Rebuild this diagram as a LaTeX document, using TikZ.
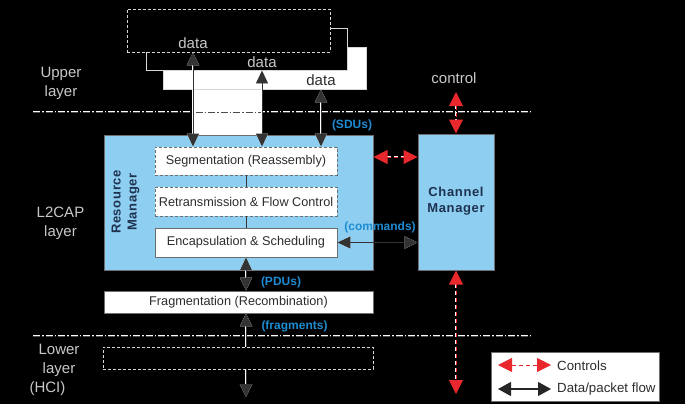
\documentclass[tikz,border=0pt]{standalone}
\usepackage{fontspec}
\setmainfont{Liberation Sans}
\usetikzlibrary{arrows.meta}
\definecolor{rmblue}{RGB}{142,206,240}
\definecolor{lblue}{RGB}{30,140,210}
\definecolor{navy}{RGB}{30,50,80}
\definecolor{ared}{RGB}{232,40,45}
\definecolor{txtdark}{RGB}{45,45,45}
\definecolor{onblack}{RGB}{200,200,200}
\definecolor{boxline}{RGB}{110,110,110}
\definecolor{lightline}{RGB}{215,215,215}
\tikzset{
  dtip/.tip={Triangle[length=13pt,width=12pt]},
  rtip/.tip={Triangle[length=14pt,width=14pt]},
  ltip/.tip={Triangle[length=13pt,width=14pt]},
  halo/.style={preaction={draw=white,line width=1.8pt}},
  dflow/.style={draw=black!80,line width=0.9pt,halo},
  cflow/.style={draw=ared,line width=1pt,dash pattern=on 4pt off 3pt,
     preaction={draw=white,line width=2.2pt,arrows=-,shorten >=6pt,shorten <=6pt,dash pattern=on 4pt off 3pt}},
  sepline/.style={draw=black!70,line width=0.6pt,dash pattern=on 7pt off 2pt on 1.5pt off 2pt,
     preaction={draw=white,line width=1.8pt,dash pattern=on 7pt off 2pt on 1.5pt off 2pt}},
  wbox/.style={draw=boxline,line width=0.9pt,fill=white,text=txtdark,inner sep=0pt,
     font=\fontsize{12.7}{15}\selectfont},
  dbox/.style={wbox,dash pattern=on 3pt off 2pt},
  topbox/.style={draw=lightline,line width=0.9pt,fill=black,inner sep=0pt},
  bluebox/.style={draw=boxline,line width=1pt,fill=rmblue,inner sep=0pt},
  mgr/.style={text=navy,font=\fontsize{13}{16}\bfseries\selectfont\addfontfeature{LetterSpace=5},align=center,inner sep=0pt},
  layerlbl/.style={text=onblack,font=\fontsize{15}{19}\selectfont,align=center,inner sep=0pt},
  datalbl/.style={font=\fontsize{15}{18}\selectfont,inner sep=0pt},
  bluelbl/.style={text=lblue,font=\fontsize{12}{14}\bfseries\selectfont,inner sep=0pt},
  leglbl/.style={text=txtdark,font=\fontsize{13.3}{15}\selectfont,inner sep=0pt,anchor=west},
}
\begin{document}
\begin{tikzpicture}[x=1pt,y=-1pt]
\useasboundingbox (0,0) rectangle (685,404);
\fill[black] (0,0) rectangle (685,404);

% white patch between the two left data arrows
\fill[white] (193,89) rectangle (262,135);

% upper layer data boxes
\node[wbox,draw=lightline,minimum width=203pt,minimum height=42pt] (box3) at (264.5,68) {};
\node[topbox,minimum width=201pt,minimum height=42pt] (box2) at (246.5,49) {};
\node[topbox,dash pattern=on 3pt off 2pt,minimum width=203pt,minimum height=43pt] (box1) at (228.5,30.5) {};

% separators
\coordinate (s1l) at (33,112); \coordinate (s1r) at (531,112);
\coordinate (s2l) at (33,336); \coordinate (s2r) at (531,336);
\draw[sepline] (s1l) -- (s1r);
\draw[sepline] (s2l) -- (s2r);

% L2CAP blocks
\node[bluebox,minimum width=269pt,minimum height=135pt] (rm) at (238.5,202.5) {};
\node[bluebox,minimum width=76pt,minimum height=136pt] (cm) at (456,202) {};
\node[dbox,minimum width=182pt,minimum height=28pt] (seg) at (246,161) {Segmentation (Reassembly)};
\node[dbox,minimum width=182pt,minimum height=29pt] (retr) at (246,201.5) {Retransmission \& Flow Control};
\node[wbox,minimum width=182pt,minimum height=29pt] (enc) at (246,242.5) {Encapsulation \& Scheduling};
\node[wbox,minimum width=269pt,minimum height=22pt] (frag) at (238.5,302) {Fragmentation (Recombination)};
\node[topbox,dash pattern=on 3pt off 2pt,minimum width=270pt,minimum height=22pt] (lower) at (238,358) {};

\node[mgr,rotate=90] (rmlbl) at (125.5,202) {Resource\\Manager};
\node[mgr] (cmlbl) at (456,201.5) {Channel\\Manager};

% connectors inside resource manager
\draw[black!80,line width=0.9pt] (seg.south) -- (retr.north);
\draw[black!80,line width=0.9pt] (retr.south) -- (enc.north);

% data flow arrows
\coordinate (c1) at (193,0); \coordinate (c2) at (262,0); \coordinate (c3) at (321,0);
\draw[dflow,dtip-dtip] (c1 |- box1.south) -- (c1 |- seg.north);
\draw[dflow,dtip-dtip] (c2 |- box2.south) -- (c2 |- seg.north);
\draw[dflow,dtip-dtip] (c3 |- box3.south) -- (c3 |- seg.north);
\draw[dflow,dtip-dtip] (enc.east) -- (cm.west |- enc.east);
\draw[dflow,dtip-dtip] (enc.south) -- (enc.south |- frag.north);
\draw[dflow,dtip-] (enc.south |- frag.south) -- (enc.south |- lower.north);
\coordinate (hcibot) at (246,397);
\draw[dflow,-dtip] (enc.south |- lower.south) -- (hcibot);

% control arrows
\coordinate (rc) at (0,157);
\draw[cflow,rtip-rtip] (rm.east |- rc) -- (cm.west |- rc);
\coordinate (ctltop) at (456,92);
\draw[cflow,rtip-rtip] (ctltop) -- (cm.north);
\coordinate (ctlbot) at (456,394);
\draw[cflow,rtip-rtip] (cm.south) -- (ctlbot);

% labels
\node[datalbl,text=onblack] (d1) at (193,43) {data};
\node[datalbl,text=onblack] (d2) at (262,62) {data};
\node[datalbl,text=txtdark] (d3) at (321,80.5) {data};
\node[datalbl,text=onblack] (ctl) at (454,78) {control};

\node[layerlbl] (upl) at (61,83) {Upper\\layer};
\node[layerlbl] (l2l) at (60.5,223) {L2CAP\\layer};
\node[layerlbl] (lowl) at (59,370) {Lower\\layer\\\hspace*{-23pt}(HCI)};

\node[bluelbl] (sdu) at (352,125) {(SDUs)};
\node[bluelbl] (cmd) at (380,227.5) {(commands)};
\node[bluelbl] (pdu) at (281,282) {(PDUs)};
\node[bluelbl] (frg) at (294.5,326) {(fragments)};

% legend
\node[wbox,minimum width=168pt,minimum height=49pt] (leg) at (575,376.5) {};
\coordinate (lr1) at (498,365); \coordinate (lr2) at (551,365);
\coordinate (lb1) at (498,389); \coordinate (lb2) at (551,389);
\draw[draw=ared,line width=1pt,dash pattern=on 4pt off 3pt,rtip-rtip] (lr1) -- (lr2);
\draw[draw=black!85,line width=1.2pt,ltip-ltip] (lb1) -- (lb2);
\node[leglbl] (legc) at (557,366) {Controls};
\node[leglbl] (legd) at (557,389) {Data/packet flow};
\end{tikzpicture}
\end{document}
